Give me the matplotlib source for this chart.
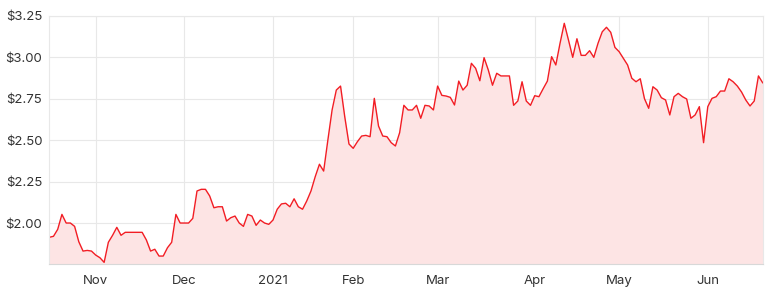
import matplotlib
matplotlib.use('Agg')
import matplotlib.pyplot as plt

# daily closes, one per trading day (index based x axis)
prices = [
    1.914, 1.920, 1.962, 2.052, 2.000, 2.000, 1.980, 1.887, 1.831, 1.835,
    1.831, 1.807, 1.791, 1.763, 1.884, 1.926, 1.974, 1.926, 1.944, 1.944,
    1.944, 1.944, 1.944, 1.898, 1.831, 1.842, 1.801, 1.801, 1.851, 1.884,
    2.052, 2.000, 2.000, 2.000, 2.028, 2.193, 2.203, 2.203, 2.163, 2.092,
    2.098, 2.098, 2.012, 2.032, 2.042, 2.000, 1.980, 2.052, 2.042, 1.986,
    2.018, 2.000, 1.992, 2.018, 2.083, 2.115, 2.119, 2.098, 2.146, 2.098,
    2.083, 2.133, 2.193, 2.279, 2.354, 2.313, 2.500, 2.681, 2.801, 2.825,
    2.640, 2.476, 2.450, 2.490, 2.524, 2.528, 2.520, 2.751, 2.584, 2.524,
    2.520, 2.484, 2.464, 2.544, 2.709, 2.681, 2.681, 2.709, 2.631, 2.709,
    2.705, 2.681, 2.825, 2.769, 2.765, 2.757, 2.711, 2.855, 2.801, 2.830,
    2.962, 2.932, 2.857, 2.996, 2.922, 2.830, 2.902, 2.886, 2.886, 2.886,
    2.709, 2.735, 2.851, 2.735, 2.709, 2.767, 2.761, 2.809, 2.855, 3.002,
    2.952, 3.083, 3.203, 3.102, 2.998, 3.110, 3.010, 3.010, 3.038, 2.998,
    3.083, 3.152, 3.179, 3.149, 3.058, 3.032, 2.992, 2.952, 2.872, 2.851,
    2.869, 2.749, 2.691, 2.821, 2.801, 2.755, 2.741, 2.651, 2.761, 2.781,
    2.761, 2.747, 2.631, 2.651, 2.701, 2.484, 2.701, 2.751, 2.761, 2.795,
    2.795, 2.869, 2.851, 2.825, 2.789, 2.741, 2.705, 2.735, 2.886, 2.845,
]
month_labels = ['Nov', 'Dec', '2021', 'Feb', 'Mar', 'Apr', 'May', 'Jun']
month_index = [11, 32, 53, 72, 92, 115, 135, 156]   # first trading day of each month
y_ticks = [2.00, 2.25, 2.50, 2.75, 3.00, 3.25]

plt.rcParams['font.family'] = ['Inter', 'DejaVu Sans']

fig = plt.figure(figsize=(7.71, 2.96), dpi=100)
ax = fig.add_axes([0.0639, 0.108, 0.9253, 0.8396])

x = list(range(len(prices)))
base = 1.753
ax.fill_between(x, prices, base, color='#fde4e4', lw=0)
ax.plot(x, prices, color='#f21d24', lw=1.0)

ax.set_xlim(0, len(prices) - 1)
ax.set_ylim(base, 3.25)
ax.set_xticks(month_index)
ax.set_xticklabels(month_labels)
ax.set_yticks(y_ticks)
ax.set_yticklabels(['$%.2f' % v for v in y_ticks])

ax.grid(True, color='#e8e8e8', lw=0.8)
ax.set_axisbelow(True)
for s in ['top', 'right', 'left']:
    ax.spines[s].set_color('#e8e8e8')
    ax.spines[s].set_linewidth(0.8)
ax.spines['bottom'].set_color('#d8d8d8')
ax.spines['bottom'].set_linewidth(0.8)
ax.tick_params(length=0, labelsize=9.5, colors='#333333')
ax.tick_params(axis='x', pad=8)
ax.tick_params(axis='y', pad=5)

fig.savefig('out.png', dpi=100)
